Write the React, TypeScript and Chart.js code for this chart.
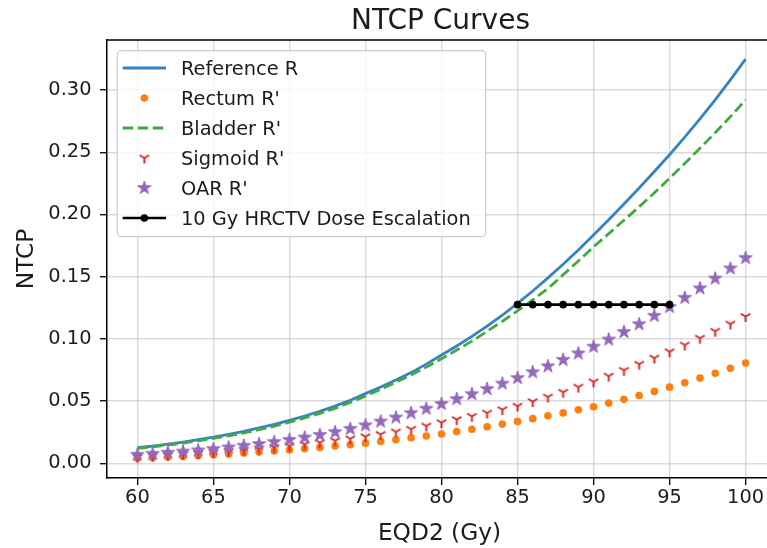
import React, { useEffect, useRef } from 'react';
import { Chart, registerables } from 'chart.js';

Chart.register(...registerables);

// EQD2 dose grid (Gy)
const doses = [
  60, 61, 62, 63, 64, 65, 66, 67, 68, 69,
  70, 71, 72, 73, 74, 75, 76, 77, 78, 79,
  80, 81, 82, 83, 84, 85, 86, 87, 88, 89,
  90, 91, 92, 93, 94, 95, 96, 97, 98, 99, 100,
];

const referenceR = [
  0.0125, 0.0139, 0.0154, 0.0171, 0.0190, 0.0210, 0.0233, 0.0257, 0.0284, 0.0313,
  0.0345, 0.0380, 0.0418, 0.0460, 0.0507, 0.0560, 0.0613, 0.0669, 0.0729, 0.0797,
  0.0870, 0.0943, 0.1020, 0.1102, 0.1190, 0.1285, 0.1385, 0.1490, 0.1600, 0.1715,
  0.1835, 0.1958, 0.2084, 0.2213, 0.2345, 0.2480, 0.2621, 0.2768, 0.2921, 0.3081, 0.3248,
];

const rectumR = [
  0.0040, 0.0045, 0.0050, 0.0055, 0.0061, 0.0068, 0.0075, 0.0082, 0.0090, 0.0099,
  0.0108, 0.0118, 0.0128, 0.0139, 0.0150, 0.0162, 0.0176, 0.0190, 0.0205, 0.0220,
  0.0236, 0.0255, 0.0274, 0.0294, 0.0315, 0.0337, 0.0359, 0.0382, 0.0405, 0.0430,
  0.0455, 0.0484, 0.0514, 0.0545, 0.0578, 0.0612, 0.0648, 0.0685, 0.0724, 0.0764, 0.0806,
];

const bladderR = [
  0.0120, 0.0133, 0.0147, 0.0163, 0.0181, 0.0200, 0.0221, 0.0244, 0.0270, 0.0298,
  0.0330, 0.0364, 0.0401, 0.0442, 0.0489, 0.0540, 0.0594, 0.0651, 0.0710, 0.0773,
  0.0840, 0.0910, 0.0982, 0.1061, 0.1141, 0.1225, 0.1313, 0.1405, 0.1515, 0.1626,
  0.1740, 0.1846, 0.1953, 0.2062, 0.2174, 0.2290, 0.2410, 0.2532, 0.2657, 0.2786, 0.2920,
];

const sigmoidR = [
  0.0050, 0.0057, 0.0064, 0.0071, 0.0079, 0.0088, 0.0097, 0.0107, 0.0117, 0.0128,
  0.0140, 0.0153, 0.0166, 0.0181, 0.0197, 0.0214, 0.0233, 0.0253, 0.0275, 0.0300,
  0.0327, 0.0352, 0.0378, 0.0404, 0.0431, 0.0460, 0.0496, 0.0533, 0.0572, 0.0613,
  0.0655, 0.0701, 0.0748, 0.0797, 0.0846, 0.0897, 0.0951, 0.1006, 0.1062, 0.1120, 0.1180,
];

const oarR = [
  0.0068, 0.0076, 0.0085, 0.0094, 0.0104, 0.0115, 0.0128, 0.0141, 0.0155, 0.0171,
  0.0188, 0.0207, 0.0228, 0.0251, 0.0277, 0.0305, 0.0336, 0.0368, 0.0403, 0.0439,
  0.0477, 0.0516, 0.0556, 0.0597, 0.0640, 0.0685, 0.0732, 0.0780, 0.0831, 0.0883,
  0.0937, 0.0995, 0.1055, 0.1118, 0.1185, 0.1256, 0.1330, 0.1406, 0.1485, 0.1566, 0.1650,
];

// 10 Gy escalation at constant NTCP
const escalationDoses = [85, 86, 87, 88, 89, 90, 91, 92, 93, 94, 95];
const escalationNtcp = [
  0.1275, 0.1275, 0.1275, 0.1275, 0.1275, 0.1275,
  0.1275, 0.1275, 0.1275, 0.1275, 0.1275,
];

const xTicks = [60, 65, 70, 75, 80, 85, 90, 95, 100];
const yTicks = [0, 0.05, 0.1, 0.15, 0.2, 0.25, 0.3];

const seriesLabels = [
  'Reference R',
  "Rectum R'",
  "Bladder R'",
  "Sigmoid R'",
  "OAR R'",
  '10 Gy HRCTV Dose Escalation',
];

const titleText = 'NTCP Curves';
const xLabel = 'EQD2 (Gy)';
const yLabel = 'NTCP';

const FONT = '"DejaVu Sans", sans-serif';
const TEXT = '#1c1c1c';
const BLUE = '#3584bd';
const ORANGE = '#ff7f0e';
const GREEN = '#40aa40';
const RED = '#d62728';
const PURPLE = '#9467bd';

function makeStar(color: string, outer: number): HTMLCanvasElement {
  const size = Math.ceil(outer * 2 + 4);
  const c = document.createElement('canvas');
  c.width = size;
  c.height = size;
  const g = c.getContext('2d')!;
  const cx = size / 2;
  const cy = size / 2;
  const inner = outer * 0.381966;
  g.beginPath();
  for (let i = 0; i < 10; i++) {
    const r = i % 2 === 0 ? outer : inner;
    const a = -Math.PI / 2 + (i * Math.PI) / 5;
    const px = cx + r * Math.cos(a);
    const py = cy + r * Math.sin(a);
    if (i === 0) g.moveTo(px, py);
    else g.lineTo(px, py);
  }
  g.closePath();
  g.fillStyle = color;
  g.fill();
  g.strokeStyle = color;
  g.lineWidth = 1;
  g.lineJoin = 'round';
  g.stroke();
  return c;
}

function makeTriDown(color: string, r: number, lw: number): HTMLCanvasElement {
  const size = Math.ceil(2 * r + lw + 4);
  const c = document.createElement('canvas');
  c.width = size;
  c.height = size;
  const g = c.getContext('2d')!;
  const cx = size / 2;
  const cy = size / 2;
  g.strokeStyle = color;
  g.lineWidth = lw;
  g.lineCap = 'butt';
  g.beginPath();
  g.moveTo(cx, cy);
  g.lineTo(cx, cy + r);
  g.moveTo(cx, cy);
  g.lineTo(cx + r * 0.866, cy - r * 0.5);
  g.moveTo(cx, cy);
  g.lineTo(cx - r * 0.866, cy - r * 0.5);
  g.stroke();
  return c;
}

const toPoints = (xs: number[], ys: number[]) => xs.map((x, i) => ({ x, y: ys[i] }));

export default function App() {
  const canvasRef = useRef<HTMLCanvasElement | null>(null);

  useEffect(() => {
    const canvas = canvasRef.current;
    if (!canvas) return;

    const star = makeStar(PURPLE, 7);
    const tri = makeTriDown(RED, 5.5, 2);

    const decorations = {
      id: 'decorations',
      afterDraw(chart: any) {
        const { ctx, chartArea: a } = chart;
        ctx.save();

        // top and right spines
        ctx.strokeStyle = '#000';
        ctx.lineWidth = 1.5;
        ctx.beginPath();
        ctx.moveTo(a.left, a.top);
        ctx.lineTo(a.right, a.top);
        ctx.lineTo(a.right, a.bottom);
        ctx.stroke();

        const cx = (a.left + a.right) / 2;
        ctx.fillStyle = TEXT;
        ctx.textAlign = 'center';
        ctx.textBaseline = 'alphabetic';

        // title
        ctx.font = `28px ${FONT}`;
        ctx.fillText(titleText, cx - 1, a.top - 11.5);

        // axis titles
        ctx.font = `23.3px ${FONT}`;
        ctx.fillText(xLabel, cx - 2, a.bottom + 62);
        ctx.save();
        ctx.translate(33, (a.top + a.bottom) / 2);
        ctx.rotate(-Math.PI / 2);
        ctx.fillText(yLabel, 0, 0);
        ctx.restore();

        // legend
        const lx = a.left + 10.3;
        const ly = a.top + 10.7;
        const lw = 368.4;
        const lh = 186;
        ctx.beginPath();
        ctx.roundRect(lx, ly, lw, lh, 4);
        ctx.fillStyle = 'rgba(255,255,255,0.8)';
        ctx.fill();
        ctx.strokeStyle = '#cccccc';
        ctx.lineWidth = 1.2;
        ctx.stroke();

        const hx0 = lx + 5.4;
        const hx1 = lx + 48.7;
        const hm = (hx0 + hx1) / 2;
        const tx = lx + 63.7;
        ctx.font = `19.4px ${FONT}`;
        ctx.textAlign = 'left';
        seriesLabels.forEach((label, i) => {
          const base = ly + 24.3 + i * 30;
          const my = base - 7;
          ctx.save();
          if (i === 0 || i === 2 || i === 5) {
            ctx.beginPath();
            ctx.moveTo(hx0, my);
            ctx.lineTo(hx1, my);
            ctx.lineWidth = i === 5 ? 2.6 : 2.8;
            ctx.strokeStyle = i === 0 ? BLUE : i === 2 ? GREEN : '#000';
            if (i === 2) ctx.setLineDash([10.5, 4.5]);
            ctx.stroke();
          }
          if (i === 1 || i === 5) {
            ctx.beginPath();
            ctx.arc(hm, my, 3.8, 0, Math.PI * 2);
            ctx.fillStyle = i === 1 ? ORANGE : '#000';
            ctx.fill();
          }
          if (i === 3) ctx.drawImage(tri, hm - tri.width / 2, my - tri.height / 2);
          if (i === 4) ctx.drawImage(star, hm - star.width / 2, my - star.height / 2);
          ctx.restore();
          ctx.fillStyle = TEXT;
          ctx.fillText(label, tx, base);
        });

        ctx.restore();
      },
    };

    const chart = new Chart(canvas, {
      type: 'line',
      data: {
        datasets: [
          {
            label: seriesLabels[0],
            data: toPoints(doses, referenceR),
            borderColor: BLUE,
            borderWidth: 2.8,
            pointRadius: 0,
            showLine: true,
            fill: false,
            order: 6,
          },
          {
            label: seriesLabels[1],
            data: toPoints(doses, rectumR),
            showLine: false,
            pointStyle: 'circle',
            pointRadius: 3.8,
            pointBackgroundColor: ORANGE,
            pointBorderWidth: 0,
            order: 5,
          },
          {
            label: seriesLabels[2],
            data: toPoints(doses, bladderR),
            borderColor: GREEN,
            borderWidth: 2.8,
            borderDash: [10.5, 4.5],
            pointRadius: 0,
            showLine: true,
            fill: false,
            order: 4,
          },
          {
            label: seriesLabels[3],
            data: toPoints(doses, sigmoidR),
            showLine: false,
            pointStyle: tri,
            pointRadius: 6,
            order: 3,
          },
          {
            label: seriesLabels[4],
            data: toPoints(doses, oarR),
            showLine: false,
            pointStyle: star,
            pointRadius: 7,
            order: 2,
          },
          {
            label: seriesLabels[5],
            data: toPoints(escalationDoses, escalationNtcp),
            borderColor: '#000',
            borderWidth: 2.6,
            pointStyle: 'circle',
            pointRadius: 3.8,
            pointBackgroundColor: '#000',
            pointBorderWidth: 0,
            showLine: true,
            fill: false,
            order: 1,
          },
        ],
      },
      options: {
        animation: false,
        responsive: false,
        events: [],
        layout: { padding: { left: 0, right: 14, top: 40, bottom: 0 } },
        plugins: {
          legend: { display: false },
          title: { display: false },
          tooltip: { enabled: false },
        },
        scales: {
          x: {
            type: 'linear',
            min: 58,
            max: 102,
            afterBuildTicks: (axis: any) => {
              axis.ticks = xTicks.map((value) => ({ value }));
            },
            afterFit: (scale: any) => {
              scale.height = 70;
            },
            ticks: {
              callback: (v: any) => String(v),
              font: { family: FONT, size: 19.4 },
              color: TEXT,
              padding: 1,
              maxRotation: 0,
            },
            grid: {
              color: 'rgba(176,176,176,0.45)',
              lineWidth: 1.4,
              tickLength: 7,
              tickColor: '#111',
              tickWidth: 1.4,
            },
            border: { color: '#000', width: 1.5 },
          },
          y: {
            type: 'linear',
            min: -0.0118,
            max: 0.3402,
            afterBuildTicks: (axis: any) => {
              axis.ticks = yTicks.map((value) => ({ value }));
            },
            afterFit: (scale: any) => {
              scale.width = 107;
            },
            ticks: {
              callback: (v: any) => Number(v).toFixed(2),
              font: { family: FONT, size: 19.4 },
              color: TEXT,
              padding: 8.5,
            },
            grid: {
              color: 'rgba(176,176,176,0.45)',
              lineWidth: 1.4,
              tickLength: 7,
              tickColor: '#111',
              tickWidth: 1.4,
            },
            border: { color: '#000', width: 1.5 },
          },
        },
      },
      plugins: [decorations],
    } as any);

    return () => {
      chart.destroy();
    };
  }, []);

  return (
    <div
      style={{
        position: 'absolute',
        left: 0,
        top: 0,
        width: 767,
        height: 548,
        overflow: 'hidden',
        background: '#fff',
      }}
    >
      <canvas ref={canvasRef} width={790} height={548} style={{ display: 'block' }} />
    </div>
  );
}
